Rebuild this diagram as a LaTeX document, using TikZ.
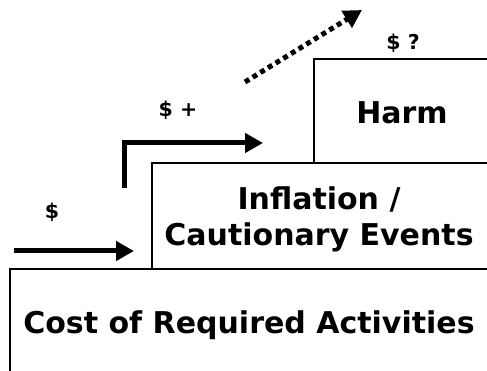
\documentclass[tikz,border=0pt]{standalone}
\usepackage{fontspec}
\setmainfont{DejaVu Sans}
\usetikzlibrary{arrows.meta}
\begin{document}
\begin{tikzpicture}[x=1pt,y=-1pt,
  boxline/.style={line width=2pt,line cap=rect},
  big/.style={font=\bfseries\fontsize{30}{36}\selectfont,align=center,inner sep=0pt},
  small/.style={font=\bfseries\fontsize{20.5}{24}\selectfont,inner sep=0pt},
  fat/.style={line width=5pt,-{Triangle[length=18pt,width=19pt]}}]
\useasboundingbox (0,0) rectangle (487,371);
% steps
\draw[boxline] (10,371) -- (10,269) -- (490,269);
\draw[boxline] (152,269) -- (152,163) -- (490,163);
\draw[boxline] (314,163) -- (314,59) -- (490,59);
% texts
\node[big] (cost) at (249,325) {Cost of Required Activities};
\node[big] (infl) at (319,219) {Inflation /\\Cautionary Events};
\node[big] (harm) at (402,113) {Harm};
\node[small] (l1) at (52,212) {\$};
\node[small] (l2) at (178,110) {\$ +};
\node[small] (l3) at (403,43) {\$ ?};
% arrows
\coordinate (a1s) at (14,251);
\coordinate (a1e) at (134,251);
\draw[fat] (a1s) -- (a1e);
\coordinate (a2s) at (124.5,188);
\coordinate (a2e) at (263,143);
\draw[fat,line cap=butt] (a2s) |- (a2e);
\coordinate (a3s) at (245,82);
\coordinate (a3e) at (362,10);
\draw[fat,dash pattern=on 5pt off 4pt] (a3s) -- (a3e);
\end{tikzpicture}
\end{document}
